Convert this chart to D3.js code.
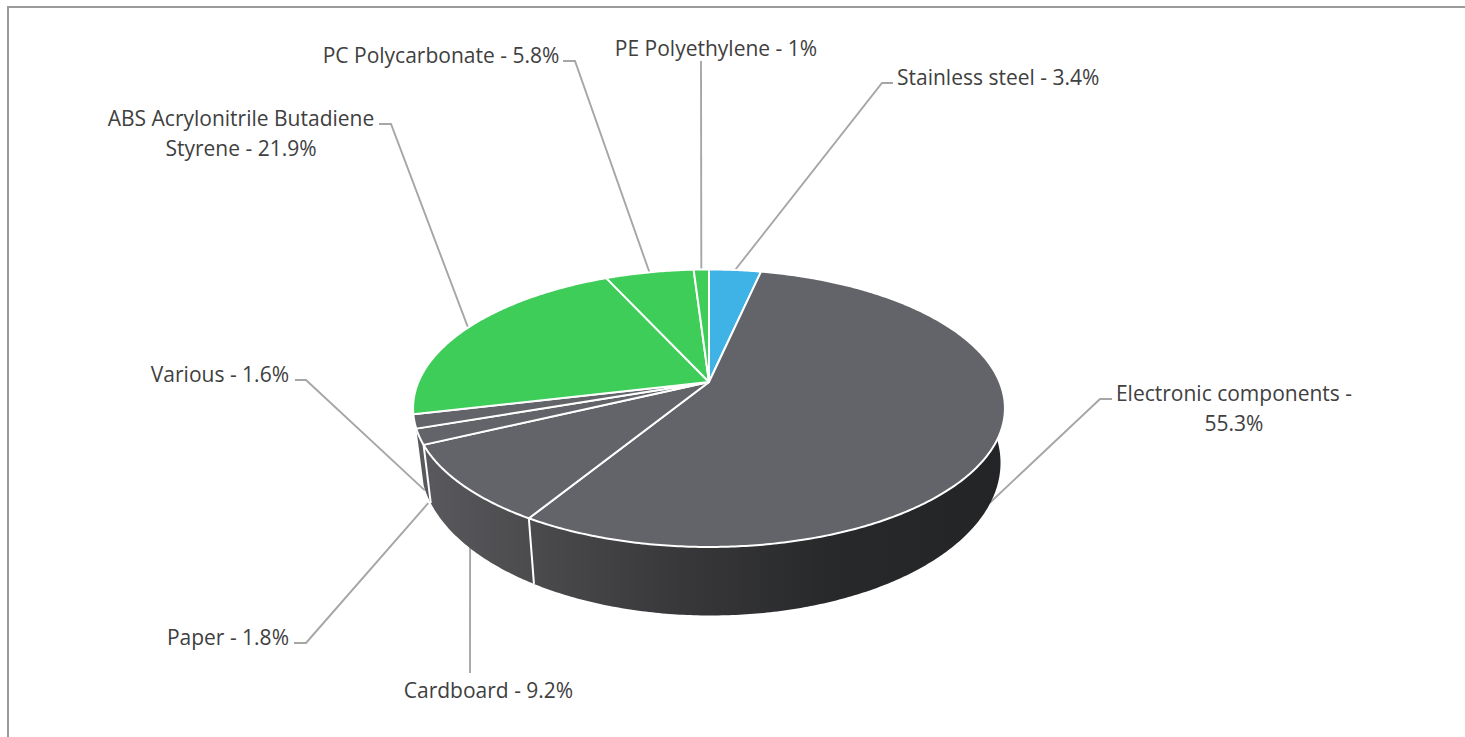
<!DOCTYPE html>
<html>
<head>
<meta charset="utf-8">
<script src="https://cdn.jsdelivr.net/npm/d3@7/dist/d3.min.js"></script>
<style>
html,body{margin:0;padding:0;background:#fff;overflow:hidden}
svg{display:block}
text{font-family:"Open Sans",sans-serif;font-size:21px;fill:#404040}
</style>
</head>
<body>
<svg id="chart" width="1465" height="737"></svg>
<script>
// Data
const categories = ["Stainless steel","Electronic components","Cardboard","Paper","Various","ABS Acrylonitrile Butadiene Styrene","PC Polycarbonate","PE Polyethylene"];
const shares = [3.4,55.3,9.2,1.8,1.6,21.9,5.8,1];
const sliceColors = ["#3fb2e6","#626469","#626469","#626469","#626469","#3dcd58","#3dcd58","#3dcd58"];

// Label layout (separate from the data): text lines, anchor, leader route
const labelLayout = [
  {lines:["Stainless steel - 3.4%"], x:897, y:[85], anchor:"start", elbow:[[882,83],[893,83]], wall:false, nudge:[0,0]},
  {lines:["Electronic components -","55.3%"], x:1234, y:[401,431], anchor:"middle", elbow:[[1100,399],[1112,399]], wall:true, nudge:[-5,10]},
  {lines:["Cardboard - 9.2%"], x:488.5, y:[698], anchor:"middle", elbow:[[470,673]], wall:true, nudge:[1.5,-4]},
  {lines:["Paper - 1.8%"], x:289, y:[645], anchor:"end", elbow:[[306,643],[294,643]], wall:true, nudge:[1.5,9]},
  {lines:["Various - 1.6%"], x:289, y:[382], anchor:"end", elbow:[[306,380],[295,380]], wall:true, nudge:[3,13]},
  {lines:["ABS Acrylonitrile Butadiene","Styrene - 21.9%"], x:241, y:[126,156], anchor:"middle", elbow:[[391,124],[379,124]], wall:false, nudge:[0,0]},
  {lines:["PC Polycarbonate - 5.8%"], x:441, y:[63], anchor:"middle", elbow:[[575,61],[563,61]], wall:false, nudge:[0,0]},
  {lines:["PE Polyethylene - 1%"], x:716, y:[56], anchor:"middle", elbow:[[701,61]], wall:false, nudge:[0,0]}
];

// Perspective view of the pie
const view = {cx:709, cy:382, k:0.189, a:133.8, b:290.6, wallScaleX:0.98, wallScaleY:1.1, wallDrop:52, wallShift:1.5};
const project = (theta, lower) => {
  const u = Math.sin(theta), v = -Math.cos(theta), w = 1 - view.k * v;
  const X = view.b * u / w, Y = view.a * v / w;
  return lower ? [view.cx + view.wallShift + X * view.wallScaleX, view.cy + Y * view.wallScaleY + view.wallDrop]
               : [view.cx + X, view.cy + Y];
};
const arcAngles = (a0, a1) => {
  const n = Math.max(4, Math.ceil((a1 - a0) / 0.01));
  return d3.range(n + 1).map(i => a0 + (a1 - a0) * i / n);
};

const svg = d3.select("#chart");
const line = d3.line();

// Chart frame (its right and bottom sides fall outside the picture)
svg.append("rect").attr("x",8).attr("y",7).attr("width",1480).attr("height",760)
  .attr("fill","#fff").attr("stroke","#9b9b9b").attr("stroke-width",2);

const defs = svg.append("defs");
const grad = defs.append("linearGradient").attr("id","wallShade")
  .attr("gradientUnits","userSpaceOnUse").attr("x1",413).attr("x2",1005).attr("y1",0).attr("y2",0);
[[0,"#5b5b5f"],[0.2,"#4b4b4e"],[0.45,"#38383a"],[0.7,"#28292b"],[1,"#232426"]]
  .forEach(([o,c]) => grad.append("stop").attr("offset",o).attr("stop-color",c));

const pie = d3.pie().sort(null).value(d => d)(shares);

// Leaders
svg.append("g").selectAll("path").data(pie).join("path")
  .attr("fill","none").attr("stroke","#a6a6a6").attr("stroke-width",1.9)
  .attr("d",(d,i) => {
    const mid = (d.startAngle + d.endAngle) / 2;
    const lay = labelLayout[i];
    const p = project(mid, lay.wall);
    return line([[p[0] + lay.nudge[0], p[1] + lay.nudge[1]], ...lay.elbow]);
  });

// Side wall: front slices only, from the first dark slice through Paper
const wallSlices = pie.slice(1,4);
svg.append("g").selectAll("path").data(wallSlices).join("path")
  .attr("fill","url(#wallShade)").attr("stroke","none")
  .attr("d",d => {
    const t = arcAngles(d.startAngle, d.endAngle);
    return line([...t.map(a => project(a,false)), ...t.slice().reverse().map(a => project(a,true))]) + "Z";
  });
// White seams between wall pieces
svg.append("g").selectAll("path").data(wallSlices.slice(1)).join("path")
  .attr("fill","none").attr("stroke","#fff").attr("stroke-width",2)
  .attr("d",d => line([project(d.startAngle,false), project(d.startAngle,true)]));

// Top face
svg.append("g").selectAll("path").data(pie).join("path")
  .attr("fill",(d,i) => sliceColors[i])
  .attr("stroke","#fff").attr("stroke-width",2).attr("stroke-linejoin","round")
  .attr("d",d => line([[view.cx,view.cy], ...arcAngles(d.startAngle,d.endAngle).map(a => project(a,false))]) + "Z");

// Labels
const labels = svg.append("g").selectAll("text").data(labelLayout).join("text")
  .attr("text-anchor",d => d.anchor);
labels.selectAll("tspan").data(d => d.lines.map((s,i) => ({s, x:d.x, y:d.y[i]}))).join("tspan")
  .attr("x",d => d.x).attr("y",d => d.y).text(d => d.s);
</script>
</body>
</html>
